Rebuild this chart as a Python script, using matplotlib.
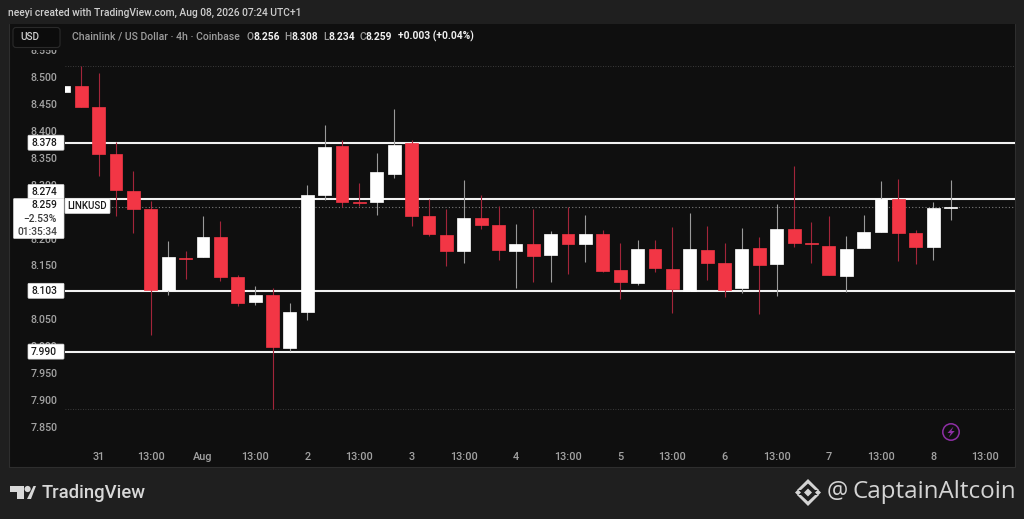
import matplotlib
matplotlib.use("Agg")
import matplotlib.pyplot as plt
from matplotlib.patches import Rectangle, FancyBboxPatch, Polygon, Circle

# ---- data (index 0 is the partly hidden candle at the left edge) ----
opens = [8.472, 8.483, 8.445, 8.357, 8.288, 8.255, 8.104, 8.164, 8.166, 8.203, 8.128, 8.082, 8.096, 7.997, 8.063,
         8.281, 8.371, 8.268, 8.268, 8.319, 8.377, 8.241, 8.207, 8.177, 8.239, 8.226, 8.177, 8.189, 8.169, 8.208,
         8.189, 8.208, 8.141, 8.118, 8.181, 8.144, 8.103, 8.179, 8.155, 8.108, 8.182, 8.153, 8.218, 8.191, 8.186,
         8.131, 8.182, 8.213, 8.273, 8.211, 8.184, 8.256]
highs = [8.483, 8.521, 8.508, 8.379, 8.325, 8.270, 8.195, 8.177, 8.241, 8.233, 8.132, 8.111, 8.108, 8.080, 8.299,
         8.410, 8.383, 8.303, 8.358, 8.440, 8.383, 8.273, 8.255, 8.309, 8.280, 8.260, 8.227, 8.255, 8.214, 8.258,
         8.244, 8.216, 8.192, 8.197, 8.197, 8.221, 8.247, 8.223, 8.191, 8.220, 8.202, 8.265, 8.335, 8.230, 8.241,
         8.205, 8.244, 8.306, 8.311, 8.216, 8.267, 8.308]
lows = [8.472, 8.445, 8.316, 8.242, 8.210, 8.020, 8.095, 8.124, 8.166, 8.122, 8.075, 8.077, 7.883, 7.992, 8.049,
        8.272, 8.258, 8.260, 8.243, 8.313, 8.224, 8.205, 8.149, 8.155, 8.218, 8.160, 8.108, 8.119, 8.119, 8.135,
        8.156, 8.137, 8.088, 8.114, 8.138, 8.062, 8.103, 8.123, 8.092, 8.098, 8.060, 8.094, 8.185, 8.155, 8.132,
        8.101, 8.182, 8.212, 8.158, 8.153, 8.161, 8.234]
closes = [8.483, 8.445, 8.357, 8.291, 8.255, 8.104, 8.165, 8.162, 8.202, 8.129, 8.081, 8.096, 7.998, 8.064, 8.280,
          8.370, 8.267, 8.266, 8.323, 8.374, 8.242, 8.208, 8.176, 8.239, 8.226, 8.179, 8.190, 8.168, 8.209, 8.189,
          8.208, 8.140, 8.119, 8.180, 8.145, 8.106, 8.180, 8.154, 8.104, 8.180, 8.151, 8.217, 8.191, 8.189, 8.132,
          8.181, 8.213, 8.274, 8.210, 8.184, 8.257, 8.259]
level_prices = [8.378, 8.274, 8.103, 7.990]
price_ticks = [7.85, 7.90, 7.95, 8.00, 8.05, 8.10, 8.15, 8.20, 8.25, 8.30, 8.35, 8.40, 8.45, 8.50, 8.55]
time_positions = [2, 5, 8, 11, 14, 17, 20, 23, 26, 29, 32, 35, 38, 41, 44, 47, 50, 53]
time_labels = ["31", "13:00", "Aug", "13:00", "2", "13:00", "3", "13:00", "4", "13:00", "5", "13:00", "6", "13:00",
               "7", "13:00", "8", "13:00"]
last_price = 8.259
session_high = 8.521
session_low = 7.883

W, H = 1024, 519
FONT = "Roboto"
BG = "#1f1f1f"
PANEL = "#0f0f0f"
RED = "#f23645"
WHITE = "#ffffff"
GREY = "#a3a3a3"

plt.rcParams["font.family"] = [FONT, "DejaVu Sans"]
fig = plt.figure(figsize=(W / 100, H / 100), dpi=100, facecolor=BG)


def frac_rect(x0, y0, x1, y1):
    return [x0 / W, 1 - y1 / H, (x1 - x0) / W, (y1 - y0) / H]


# full-figure layer in pixel coordinates, below the chart
back = fig.add_axes([0, 0, 1, 1], zorder=0)
back.set_xlim(0, W)
back.set_ylim(H, 0)
back.axis("off")
back.add_patch(Rectangle((9, 23.5), 1006, 443.5, fc=PANEL, ec="#2e2e2e", lw=0.8))

# chart axes
AX_L, AX_R, AX_T, AX_B = 65, 1015, 50, 441
ax = fig.add_axes(frac_rect(AX_L, AX_T, AX_R, AX_B), zorder=1)
ax.patch.set_alpha(0)
for s in ax.spines.values():
    s.set_visible(False)
step = 17.385
x0_px = 63.9  # pixel centre of index 0
ax.set_xlim((AX_L - x0_px) / step, (AX_R - x0_px) / step)
ax.set_ylim(8.5 - (AX_B - 77) / 538.5, 8.5 - (AX_T - 77) / 538.5)

ax.set_yticks(price_ticks)
ax.set_yticklabels([f"{p:.3f}" for p in price_ticks])
ax.set_xticks(time_positions)
ax.set_xticklabels(time_labels)
ax.tick_params(axis="y", length=0, pad=5.4, labelsize=7.7, labelcolor=GREY)
ax.tick_params(axis="x", length=0, pad=7.8, labelsize=7.8, labelcolor=GREY)
for lab in ax.get_xticklabels() + ax.get_yticklabels():
    lab.set_fontweight("medium")

xs = list(range(len(opens)))
for i in xs:
    up = closes[i] >= opens[i]
    body = WHITE if up else RED
    wick = "#9a9a9a" if up else "#a3253a"
    ax.vlines(i, lows[i], highs[i], color=wick, lw=0.8, zorder=3)
    ax.bar(i, abs(closes[i] - opens[i]), bottom=min(opens[i], closes[i]), width=0.74,
           color=body, edgecolor=body, linewidth=0.5, zorder=4)

for lv in level_prices:
    ax.axhline(lv, color="#f2f2f2", lw=1.5, zorder=2)
ax.axhline(last_price, color="#7d7d7d", lw=0.8, ls=(0, (1, 2)), zorder=2)
ax.axhline(session_high, color="#4a4a4a", lw=0.6, ls=(0, (1, 2)), zorder=2)
ax.axhline(session_low, color="#4a4a4a", lw=0.6, ls=(0, (1, 2)), zorder=2)

# overlay layer in pixel coordinates
top = fig.add_axes([0, 0, 1, 1], zorder=5)
top.set_xlim(0, W)
top.set_ylim(H, 0)
top.axis("off")
top.patch.set_alpha(0)

# header
top.add_patch(Rectangle((9.5, 24), 1005, 26, fc=PANEL, ec="none"))
top.text(8, 12.5, "neeyi created with TradingView.com, Aug 08, 2026 07:24 UTC+1",
         color="#cfcfcf", fontsize=7.4, fontweight="medium", va="center", ha="left")
top.add_patch(FancyBboxPatch((13, 27.5), 47, 20, boxstyle="round,pad=0,rounding_size=3",
                             fc="#0c0c0c", ec="#2a2a2a", lw=0.8))
top.text(20, 37.5, "USD", color="#d0d0d0", fontsize=7.2, fontweight="medium", va="center")

header_parts = [
    (72, "Chainlink / US Dollar · 4h · Coinbase", "#9c9c9c", "medium", 7.6),
    (246.5, "O", "#9c9c9c", "medium", 7.4), (253.5, "8.256", "#f0f0f0", "bold", 7.4),
    (284.5, "H", "#9c9c9c", "medium", 7.4), (291.5, "8.308", "#f0f0f0", "bold", 7.4),
    (323, "L", "#9c9c9c", "medium", 7.4), (328.5, "8.234", "#f0f0f0", "bold", 7.4),
    (360, "C", "#9c9c9c", "medium", 7.4), (366, "8.259", "#f0f0f0", "bold", 7.4),
    (398, "+0.003 (+0.04%)", "#f0f0f0", "bold", 7.4),
]
for px, txt, col, wt, fs in header_parts:
    top.text(px, 36.5, txt, color=col, fontsize=fs, fontweight=wt, va="center", ha="left")


def y_px(p):
    return 77 + (8.5 - p) * 538.5


def tag(x0, y0, x1, y1, lines, ha="right", tx=None, fs=7.4):
    top.add_patch(FancyBboxPatch((x0, y0), x1 - x0, y1 - y0, boxstyle="round,pad=0,rounding_size=1",
                                 fc=WHITE, ec="#d8d8d8", lw=0.5, zorder=6))
    n = len(lines)
    for k, (t, c) in enumerate(lines):
        yy = y0 + (y1 - y0) * (k + 0.5) / n
        top.text(tx if tx else x1 - 7, yy, t, color=c, fontsize=fs, fontweight="medium",
                 va="center", ha=ha, zorder=7)


# price tags: levels, then the last-price stack and symbol
tag(28, 135.2, 64, 150.2, [("8.378", "#1a1a1a")])
tag(28, 283.3, 64, 298.3, [("8.103", "#1a1a1a")])
tag(28, 344.1, 64, 359.1, [("7.990", "#1a1a1a")])
tag(28, 184.5, 64, 199.5, [("8.274", "#1a1a1a")])
tag(13.5, 198.5, 64, 238.5, [(f"{last_price:.3f}", "#1a1a1a"), ("\u22122.53%", "#3a3a3a"), ("01:35:34", "#444444")])
tag(65, 198.5, 110, 213.5, [("LINKUSD", "#1a1a1a")], ha="center", tx=87.5, fs=7.0)

# purple bolt marker
top.add_patch(Circle((951, 432), 8.2, fc="none", ec="#8e2fa5", lw=1.1))
top.add_patch(Polygon([(953.5, 426.5), (947.5, 433), (950.8, 433), (948.7, 437.5), (954.7, 431), (951.4, 431)],
                      closed=True, fc="#8e2fa5", ec="none"))

# TradingView footer
LOGO = "#d8d8d8"
top.add_patch(Polygon([(10, 486), (24, 486), (24, 499), (17, 499), (17, 492), (10, 492)], closed=True, fc=LOGO, ec="none"))
top.add_patch(Circle((27.6, 489), 3.1, fc=LOGO, ec="none"))
top.add_patch(Polygon([(27, 499), (33.5, 486), (36, 486), (31, 499)], closed=True, fc=LOGO, ec="none"))
top.text(42, 492.5, "TradingView", color=LOGO, fontsize=13.3, fontweight="medium", va="center", ha="left")

# CaptainAltcoin watermark
WM = "#d4d4d4"
top.add_patch(Polygon([(808, 479), (819, 490), (815, 490), (808, 483.5), (801, 490), (797, 490)], closed=True, fc=WM, ec="none"))
top.add_patch(Polygon([(808, 506), (819, 495), (815, 495), (808, 501.5), (801, 495), (797, 495)], closed=True, fc=WM, ec="none"))
top.add_patch(Polygon([(808, 488.5), (812, 492.5), (808, 496.5), (804, 492.5)], closed=True, fc=WM, ec="none"))
top.add_patch(Polygon([(798, 489.5), (801, 492.5), (798, 495.5), (795, 492.5)], closed=True, fc=WM, ec="none"))
top.add_patch(Polygon([(818, 489.5), (821, 492.5), (818, 495.5), (815, 492.5)], closed=True, fc=WM, ec="none"))
top.text(827, 492, "@", color=WM, fontsize=17, va="center", ha="left", family="Open Sans")
top.text(853, 492, "CaptainAltcoin", color=WM, fontsize=17.4, va="center", ha="left", family="Open Sans")

fig.savefig("out.png", dpi=100, facecolor=BG)
